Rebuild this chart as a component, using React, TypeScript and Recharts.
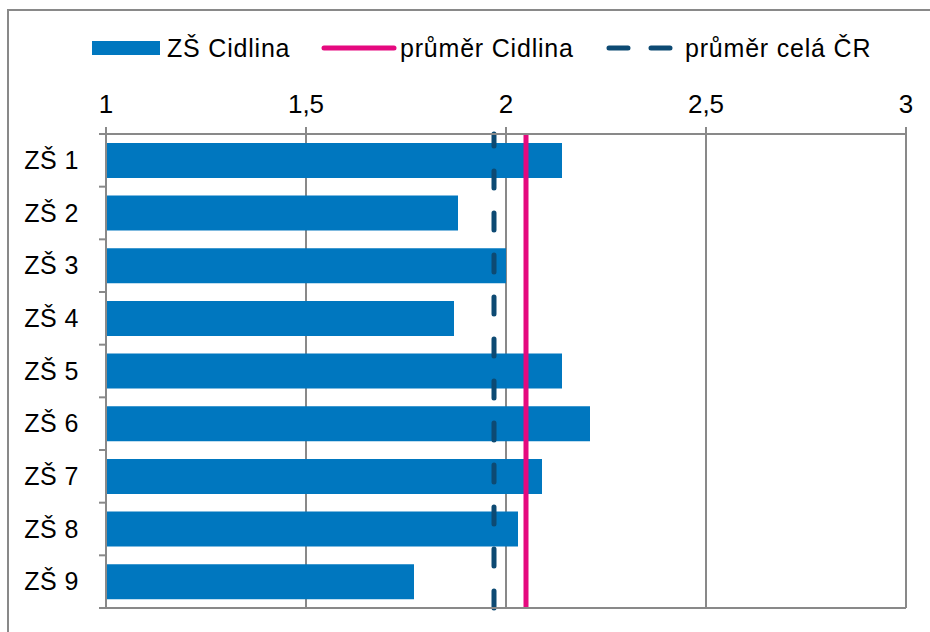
import { Bar, BarChart, CartesianGrid, Legend, ReferenceLine, XAxis, YAxis } from "recharts"

const schools = ["ZŠ 1", "ZŠ 2", "ZŠ 3", "ZŠ 4", "ZŠ 5", "ZŠ 6", "ZŠ 7", "ZŠ 8", "ZŠ 9"]
const scores = [2.14, 1.88, 2.0, 1.87, 2.14, 2.21, 2.09, 2.03, 1.77]
const cidlinaAverage = 2.05
const czechAverage = 1.97
const valueTicks = [1, 1.5, 2, 2.5, 3]
const seriesNames = ["ZŠ Cidlina", "průměr Cidlina", "průměr celá ČR"]

const FONT = "'Liberation Sans', Arial, sans-serif"
const GRID = "#898989"
const BAR = "#0077bf"
const PINK = "#e5097f"
const NAVY = "#0d4a73"
const TICK_SIZE = 7
const TICK_MARGIN = 20

const data = schools.map((school, i) => ({ school, score: scores[i] }))

// category labels with Excel-style tick marks between the categories
function CategoryTick(props: any) {
  const { x, y, payload, index, visibleTicksCount } = props
  const axisX = x + TICK_SIZE + TICK_MARGIN
  const half = payload.offset || 0
  return (
    <g>
      <line x1={axisX - TICK_SIZE} x2={axisX} y1={y - half} y2={y - half} stroke={GRID} strokeWidth={2} />
      {index === visibleTicksCount - 1 && (
        <line x1={axisX - TICK_SIZE} x2={axisX} y1={y + half} y2={y + half} stroke={GRID} strokeWidth={2} />
      )}
      <text
        x={x}
        y={y}
        dy="0.35em"
        textAnchor="end"
        fontSize={25}
        letterSpacing={0.5}
        fill="#000"
        fontFamily={FONT}
      >
        {payload.value}
      </text>
    </g>
  )
}

function renderLegend() {
  const text = {
    position: "absolute" as const,
    top: 4,
    fontSize: 25,
    letterSpacing: 0.8,
    lineHeight: "28px",
    color: "#000",
    whiteSpace: "nowrap" as const,
  }
  return (
    <div style={{ position: "relative", height: 36, fontFamily: FONT }}>
      <div style={{ position: "absolute", left: 92, top: 11, width: 68, height: 14, background: BAR }} />
      <span style={{ ...text, left: 167 }}>{seriesNames[0]}</span>
      <svg style={{ position: "absolute", left: 320, top: 10 }} width={78} height={16}>
        <line x1={4} x2={74} y1={8} y2={8} stroke={PINK} strokeWidth={5} strokeLinecap="round" />
      </svg>
      <span style={{ ...text, left: 400 }}>{seriesNames[1]}</span>
      <svg style={{ position: "absolute", left: 604, top: 10 }} width={74} height={16}>
        <line x1={5} x2={69} y1={8} y2={8} stroke={NAVY} strokeWidth={5} strokeLinecap="round" strokeDasharray="19 23" />
      </svg>
      <span style={{ ...text, left: 685 }}>{seriesNames[2]}</span>
    </div>
  )
}

// draw the dashed line from the bottom up, like the original
function BottomUpLine(props: any) {
  const { x1, x2, y1, y2 } = props
  return (
    <line
      x1={x1}
      x2={x2}
      y1={Math.max(y1, y2)}
      y2={Math.min(y1, y2)}
      stroke={NAVY}
      strokeWidth={5}
      strokeDasharray="17 25"
      strokeLinecap="round"
    />
  )
}

export default function App() {
  return (
    <div
      style={{
        position: "absolute",
        left: 0,
        top: 0,
        width: 930,
        height: 632,
        overflow: "hidden",
        background: "#fff",
        fontFamily: FONT,
      }}
    >
      <div style={{ position: "absolute", left: 7, top: 9, width: 1000, height: 1000, border: `2px solid ${GRID}` }} />
      <BarChart
        width={930}
        height={632}
        data={data}
        layout="vertical"
        margin={{ top: 30, right: 24, bottom: 23, left: 0 }}
        barCategoryGap="17%"
      >
        <CartesianGrid horizontal={false} stroke={GRID} strokeWidth={2} />
        <Legend verticalAlign="top" content={renderLegend} />
        <XAxis
          orientation="top"
          type="number"
          domain={[1, 3]}
          ticks={valueTicks}
          tickFormatter={(v) => String(v).replace(".", ",")}
          height={68}
          tickSize={TICK_SIZE}
          tickMargin={14}
          axisLine={{ stroke: GRID, strokeWidth: 2 }}
          tickLine={{ stroke: GRID, strokeWidth: 2 }}
          tick={{ fill: "#000", fontSize: 26, fontFamily: FONT }}
        />
        <XAxis
          xAxisId="bottom"
          orientation="bottom"
          type="number"
          domain={[1, 3]}
          height={1}
          tick={false}
          tickLine={false}
          axisLine={{ stroke: GRID, strokeWidth: 2 }}
        />
        <YAxis
          type="category"
          dataKey="school"
          width={106}
          tickSize={TICK_SIZE}
          tickMargin={TICK_MARGIN}
          tickLine={false}
          axisLine={{ stroke: GRID, strokeWidth: 2 }}
          tick={<CategoryTick />}
          interval={0}
        />
        <Bar dataKey="score" name={seriesNames[0]} fill={BAR} isAnimationActive={false} />
        <ReferenceLine x={cidlinaAverage} stroke={PINK} strokeWidth={5} />
        <ReferenceLine x={czechAverage} shape={<BottomUpLine />} />
      </BarChart>
    </div>
  )
}
